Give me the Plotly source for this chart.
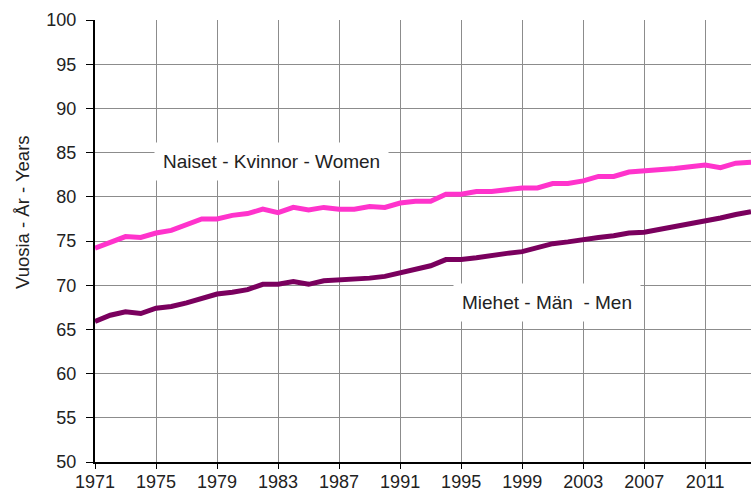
import plotly.graph_objects as go

years = list(range(1971, 2015))
women = [74.2, 74.8, 75.5, 75.4, 75.9, 76.2, 76.9, 77.5, 77.5, 77.9,
         78.1, 78.6, 78.2, 78.8, 78.5, 78.8, 78.6, 78.6, 78.9, 78.8,
         79.3, 79.5, 79.5, 80.3, 80.3, 80.6, 80.6, 80.8, 81.0, 81.0,
         81.5, 81.5, 81.8, 82.3, 82.3, 82.8, 82.9, 83.0, 83.2, 83.4,
         83.6, 83.3, 83.8, 83.9]
men = [65.9, 66.6, 67.0, 66.8, 67.4, 67.6, 68.0, 68.5, 69.0, 69.2,
       69.5, 70.1, 70.1, 70.4, 70.1, 70.5, 70.6, 70.6, 70.8, 71.0,
       71.4, 71.8, 72.2, 72.9, 72.9, 73.1, 73.4, 73.6, 73.8, 74.2,
       74.7, 74.9, 75.2, 75.4, 75.6, 75.9, 76.0, 76.3, 76.6, 76.9,
       77.3, 77.6, 78.0, 78.3]
x_ticks = list(range(1971, 2014, 4))
y_ticks = list(range(50, 101, 5))

label_women = "Naiset - Kvinnor - Women"
label_men = "Miehet - Män  - Men"
y_title = "Vuosia - År - Years"

fig = go.Figure()
fig.add_trace(go.Scatter(x=years, y=women, mode="lines", name=label_women,
                         line=dict(color="#FF33CC", width=5)))
fig.add_trace(go.Scatter(x=years, y=men, mode="lines", name=label_men,
                         line=dict(color="#7A005E", width=5)))

fam = "Liberation Sans, Arial, sans-serif"
tickfont = dict(family=fam, size=18, color="#222222")

fig.update_layout(
    width=751, height=491,
    margin=dict(l=95, r=0, t=20, b=29),
    paper_bgcolor="white", plot_bgcolor="white",
    showlegend=False,
    font=dict(family=fam, size=18, color="#222222"),
    xaxis=dict(range=[1971, 2014], tickvals=x_ticks, showgrid=True,
               gridcolor="#8c8c8c", gridwidth=1, showline=True,
               linecolor="black", linewidth=2, ticks="outside",
               ticklen=5, tickcolor="black", zeroline=False,
               tickfont=tickfont, automargin=False,
               ticklabelstandoff=-3),
    yaxis=dict(range=[50, 100], tickvals=y_ticks, showgrid=True,
               gridcolor="#8c8c8c", gridwidth=1, showline=True,
               linecolor="black", linewidth=2, ticks="outside",
               ticklen=7, tickcolor="black", zeroline=False,
               tickfont=tickfont, automargin=False,
               ticklabelstandoff=6),
    annotations=[
        dict(x=1982.6, y=84.0, xref="x", yref="y", text=label_women,
             showarrow=False, bgcolor="white",
             font=dict(family=fam, size=19, color="#222222"),
             borderpad=8),
        dict(x=2000.6, y=68.1, xref="x", yref="y", text=label_men,
             showarrow=False, bgcolor="white",
             font=dict(family=fam, size=19, color="#222222"),
             borderpad=8),
        dict(x=(22 - 95) / 656, y=(462 - 212) / 442, xref="paper", yref="paper",
             text=y_title, showarrow=False, textangle=-90,
             xanchor="center", yanchor="middle",
             font=dict(family=fam, size=18.5, color="#222222")),
    ],
)

fig.write_html("out.html", config={"displayModeBar": False},
               post_script="document.body.style.margin='0px';")
